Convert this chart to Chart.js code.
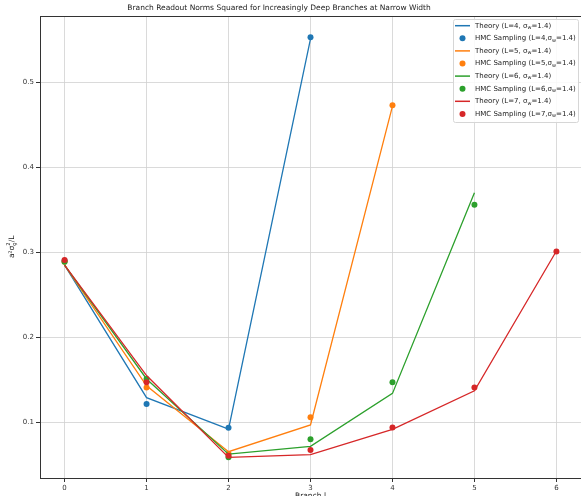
<!DOCTYPE html>
<html><head><meta charset="utf-8">
<script src="https://cdn.jsdelivr.net/npm/chart.js@4/dist/chart.umd.min.js"></script>
<style>html,body{margin:0;padding:0;background:#fff}#c{display:block}</style>
</head><body>
<canvas id="c" width="581" height="496"></canvas>
<script>
const branches4 = [0, 1, 2, 3];
const branches5 = [0, 1, 2, 3, 4];
const branches6 = [0, 1, 2, 3, 4, 5];
const branches7 = [0, 1, 2, 3, 4, 5, 6];
const theoryL4 = [0.285, 0.129, 0.092, 0.551];
const hmcL4    = [0.290, 0.1215, 0.0937, 0.553];
const theoryL5 = [0.285, 0.143, 0.0655, 0.097, 0.472];
const hmcL5    = [0.289, 0.141, 0.063, 0.106, 0.473];
const theoryL6 = [0.285, 0.151, 0.0625, 0.0718, 0.134, 0.370];
const hmcL6    = [0.289, 0.151, 0.0588, 0.080, 0.147, 0.356];
const theoryL7 = [0.285, 0.155, 0.0588, 0.062, 0.0918, 0.137, 0.3015];
const hmcL7    = [0.291, 0.147, 0.0607, 0.0674, 0.094, 0.141, 0.301];
const xTicks = [0, 1, 2, 3, 4, 5, 6];
const yTicks = [0.1, 0.2, 0.3, 0.4, 0.5];
const colors = ['#1f77b4', '#ff7f0e', '#2ca02c', '#d62728'];
const titleText = 'Branch Readout Norms Squared for Increasingly Deep Branches at Narrow Width';

const series = [
  {L: 4, xs: branches4, th: theoryL4, hmc: hmcL4},
  {L: 5, xs: branches5, th: theoryL5, hmc: hmcL5},
  {L: 6, xs: branches6, th: theoryL6, hmc: hmcL6},
  {L: 7, xs: branches7, th: theoryL7, hmc: hmcL7},
];
const datasets = [];
series.forEach((s, i) => {
  datasets.push({
    type: 'line', label: 'Theory (L=' + s.L + ', σ_w=1.4)',
    data: s.xs.map((x, k) => ({x: x, y: s.th[k]})),
    borderColor: colors[i], backgroundColor: colors[i], borderWidth: 1.3,
    pointRadius: 0, tension: 0, fill: false, kind: 'line'
  });
  datasets.push({
    type: 'scatter', label: 'HMC Sampling (L=' + s.L + ',σ_w=1.4)',
    data: s.xs.map((x, k) => ({x: x, y: s.hmc[k]})),
    borderColor: colors[i], backgroundColor: colors[i], pointRadius: 3, pointBorderWidth: 0,
    showLine: false, kind: 'point'
  });
});
datasets.forEach((d, i) => d.order = datasets.length - i);

const FONT = '"DejaVu Sans", sans-serif';

function drawRich(ctx, text, x, y, size) {
  // '_c' => subscript c ; '_c^d' => stacked subscript c and superscript d
  let cx = x;
  for (let i = 0; i < text.length; i++) {
    let ch = text[i];
    if (ch === '_' && i + 1 < text.length) {
      ch = text[++i];
      ctx.font = (size * 0.7) + 'px ' + FONT;
      ctx.fillText(ch, cx, y + size * 0.3);
      let adv = ctx.measureText(ch).width;
      if (text[i + 1] === '^' && i + 2 < text.length) {
        const sup = text[i + 2];
        i += 2;
        ctx.fillText(sup, cx, y - size * 0.4);
        adv = Math.max(adv, ctx.measureText(sup).width);
      }
      cx += adv;
    } else {
      ctx.font = size + 'px ' + FONT;
      ctx.fillText(ch, cx, y);
      cx += ctx.measureText(ch).width;
    }
  }
  return cx - x;
}

const decor = {
  id: 'decor',
  afterDraw(chart) {
    const ctx = chart.ctx, a = chart.chartArea;
    ctx.save();
    // title
    ctx.fillStyle = '#222';
    ctx.font = '7.5px ' + FONT;
    ctx.textAlign = 'center'; ctx.textBaseline = 'middle';
    ctx.fillText(titleText, 279, 8);
    ctx.textAlign = 'left';
    // frame
    ctx.strokeStyle = '#333'; ctx.lineWidth = 1;
    ctx.strokeRect(Math.round(a.left) + 0.5, Math.round(a.top) + 0.5, Math.round(a.right - a.left), Math.round(a.bottom - a.top));
    // y label
    ctx.translate(12, (a.top + a.bottom) / 2);
    ctx.rotate(-Math.PI / 2);
    drawRich(ctx, 'a²σ_g^2/L', -11, 0, 7.5);
    ctx.restore();

    // legend
    ctx.save();
    const lx = 453, ly = 19, lw = 125, lh = 103;
    ctx.fillStyle = 'rgba(255,255,255,0.85)';
    ctx.strokeStyle = '#d6d6d6'; ctx.lineWidth = 1;
    ctx.beginPath();
    if (ctx.roundRect) ctx.roundRect(lx + 0.5, ly + 0.5, lw, lh, 2); else ctx.rect(lx + 0.5, ly + 0.5, lw, lh);
    ctx.fill(); ctx.stroke();
    ctx.textBaseline = 'middle';
    chart.data.datasets.forEach((d, i) => {
      const y = 25.7 + i * 12.6;
      if (d.kind === 'line') {
        ctx.strokeStyle = d.borderColor; ctx.lineWidth = 1.5;
        ctx.beginPath(); ctx.moveTo(455, y); ctx.lineTo(470, y); ctx.stroke();
      } else {
        ctx.fillStyle = d.backgroundColor;
        ctx.beginPath(); ctx.arc(462.5, y, 3, 0, Math.PI * 2); ctx.fill();
      }
      ctx.fillStyle = '#222';
      drawRich(ctx, d.label, 475, y, 7);
    });
    ctx.restore();
  }
};

new Chart(document.getElementById('c'), {
  data: {datasets: datasets},
  options: {
    responsive: false, animation: false, devicePixelRatio: 1,
    layout: {padding: {left: 0, right: 0, top: 16, bottom: 0}, autoPadding: false},
    plugins: {
      legend: {display: false}, tooltip: {enabled: false}, title: {display: false}
    },
    scales: {
      x: {
        type: 'linear', min: -0.3, max: 6.3,
        afterBuildTicks: s => { s.ticks = xTicks.map(v => ({value: v})); },
        afterFit: s => { s.height = 18; s.paddingLeft = 0; s.paddingRight = 0; },
        ticks: {color: '#333', font: {family: FONT, size: 7}, padding: 2, maxRotation: 0,
          callback: v => String(v)},
        grid: {color: '#d0d0d0', lineWidth: 0.8, tickColor: '#333', tickLength: 4, tickWidth: 1},
        border: {display: false},
        title: {display: true, text: 'Branch l', color: '#222', font: {family: FONT, size: 7.5}, padding: {top: 0, bottom: -5}}
      },
      y: {
        type: 'linear', min: 0.0345, max: 0.578,
        afterBuildTicks: s => { s.ticks = yTicks.map(v => ({value: v})); },
        afterFit: s => { s.width = 40; s.paddingTop = 0; s.paddingBottom = 0; },
        ticks: {color: '#333', font: {family: FONT, size: 7}, padding: 2,
          callback: v => v.toFixed(1)},
        grid: {color: '#d0d0d0', lineWidth: 0.8, tickColor: '#333', tickLength: 4, tickWidth: 1},
        border: {display: false}
      }
    }
  },
  plugins: [decor]
});
</script>
</body></html>
